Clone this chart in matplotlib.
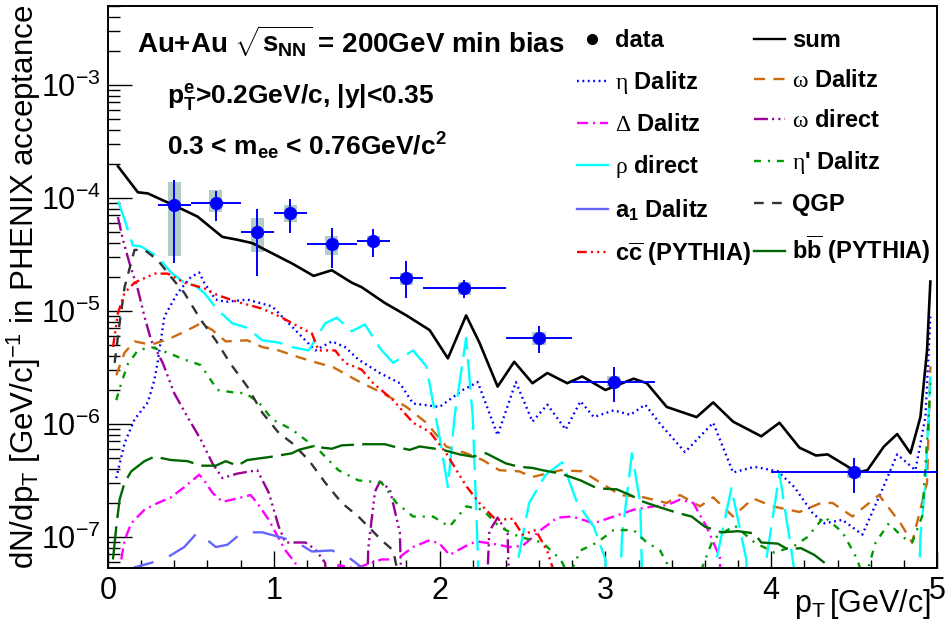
import numpy as np
import matplotlib
matplotlib.use("Agg")
import matplotlib.pyplot as plt
from matplotlib.lines import Line2D

plt.rcParams["font.family"] = ["Liberation Sans", "DejaVu Sans"]
plt.rcParams["mathtext.fontset"] = "custom"
plt.rcParams["mathtext.rm"] = "Liberation Serif"
plt.rcParams["mathtext.bf"] = "Liberation Sans:bold"
plt.rcParams["mathtext.sf"] = "Liberation Sans"
plt.rcParams["mathtext.it"] = "Liberation Sans:italic"
plt.rcParams["lines.scale_dashes"] = False

# ---- data points (pT bins, yield, stat and sys ranges) ----
data_x = [0.40, 0.65, 0.90, 1.10, 1.35, 1.60, 1.80, 2.15, 2.60, 3.05, 4.50]
data_xlo = [0.30, 0.50, 0.80, 1.00, 1.20, 1.50, 1.70, 1.90, 2.40, 2.80, 4.00]
data_xhi = [0.50, 0.80, 1.00, 1.20, 1.50, 1.70, 1.90, 2.40, 2.80, 3.30, 5.00]
data_y = [8.67e-5, 9.04e-5, 5.0e-5, 7.36e-5, 3.92e-5, 4.16e-5, 1.96e-5, 1.60e-5, 5.77e-6, 2.36e-6, 3.76e-7]
stat_hi = [1.44e-4, 1.15e-4, 8.0e-5, 9.8e-5, 5.43e-5, 5.32e-5, 2.77e-5, 1.88e-5, 7.36e-6, 3.19e-6, 5.0e-7]
stat_lo = [2.66e-5, 6.25e-5, 2.04e-5, 4.9e-5, 2.40e-5, 3.01e-5, 1.30e-5, 1.30e-5, 4.25e-6, 1.57e-6, 2.45e-7]
sys_hi = [1.39e-4, 1.18e-4, 6.65e-5, 8.67e-5, 4.61e-5, 4.61e-5, 2.17e-5, 1.81e-5, 6.52e-6, 2.63e-6, 4.17e-7]
sys_lo = [3.07e-5, 7.5e-5, 3.33e-5, 6.14e-5, 3.13e-5, 3.76e-5, 1.70e-5, 1.39e-5, 5.0e-6, 2.14e-6, 3.31e-7]

# ---- model curves, log10 of dN/dpT (-9 = below the frame) ----
sum_x = [0.06, 0.18, 0.24, 0.39, 0.54, 0.69, 0.78, 0.87, 0.99, 1.11, 1.24, 1.35, 1.47, 1.53, 1.67, 1.80,
         1.94, 2.05, 2.16, 2.24, 2.35, 2.45, 2.56, 2.65, 2.77, 2.86, 3.00, 3.17, 3.25, 3.37, 3.55, 3.65,
         3.77, 3.94, 4.05, 4.17, 4.27, 4.34, 4.52, 4.58, 4.68, 4.76, 4.84, 4.90, 4.94, 4.96]
sum_log = [-3.72, -3.95, -3.96, -4.06, -4.165, -4.345, -4.37, -4.40, -4.49, -4.58, -4.69, -4.64, -4.75,
           -4.79, -4.93, -5.04, -5.17, -5.42, -5.04, -5.28, -5.67, -5.45, -5.64, -5.55, -5.64, -5.58,
           -5.70, -5.60, -5.64, -5.85, -5.94, -5.81, -5.98, -6.11, -5.99, -6.21, -6.28, -6.27, -6.43,
           -6.41, -6.20, -6.09, -6.26, -5.94, -5.35, -4.74]

eta_x = [0.05, 0.10, 0.16, 0.24, 0.28, 0.30, 0.34, 0.42, 0.50, 0.55, 0.58, 0.65, 0.71, 0.84, 0.99, 1.11,
         1.19, 1.25, 1.35, 1.43, 1.51, 1.64, 1.76, 1.84, 2.00, 2.14, 2.23, 2.35, 2.46, 2.56, 2.65, 2.76,
         2.85, 2.93, 3.05, 3.15, 3.24, 3.33, 3.48, 3.65, 3.77, 3.90, 4.04, 4.14, 4.25, 4.32, 4.43, 4.55,
         4.67, 4.76, 4.87, 4.93, 4.96]
eta_log = [-6.48, -6.17, -5.96, -5.81, -5.61, -5.45, -5.05, -4.84, -4.70, -4.66, -4.75, -4.90, -4.92,
           -4.90, -4.96, -5.14, -5.26, -5.35, -5.27, -5.32, -5.43, -5.55, -5.64, -5.82, -5.85, -5.70,
           -5.63, -6.10, -5.63, -5.98, -5.83, -6.05, -5.80, -5.94, -5.88, -5.92, -5.83, -6.00, -6.25,
           -5.99, -6.43, -6.38, -6.42, -6.56, -6.79, -6.88, -6.85, -6.98, -6.58, -6.27, -6.41, -5.94, -5.05]

omega_dal_x = [0.05, 0.07, 0.10, 0.16, 0.26, 0.38, 0.48, 0.56, 0.63, 0.71, 0.84, 0.93, 1.03, 1.15, 1.24,
               1.36, 1.52, 1.66, 1.80, 1.92, 2.04, 2.16, 2.26, 2.36, 2.48, 2.56, 2.73, 2.86, 2.97, 3.09,
               3.23, 3.37, 3.45, 3.57, 3.65, 3.77, 3.89, 4.01, 4.17, 4.30, 4.37, 4.49, 4.65, 4.78, 4.85,
               4.94, 4.96]
omega_dal_log = [-5.57, -5.49, -5.37, -5.27, -5.30, -5.24, -5.17, -5.11, -5.17, -5.27, -5.26, -5.32, -5.35,
                 -5.41, -5.45, -5.50, -5.63, -5.73, -5.85, -5.99, -6.20, -6.26, -6.32, -6.41, -6.42,
                 -6.47, -6.41, -6.42, -6.52, -6.63, -6.65, -6.70, -6.63, -6.73, -6.65, -6.82, -6.66,
                 -6.73, -6.78, -6.70, -6.70, -6.82, -6.63, -6.88, -7.05, -6.52, -5.49]

delta_x = [0.08, 0.10, 0.14, 0.22, 0.30, 0.38, 0.46, 0.55, 0.58, 0.63, 0.69, 0.78, 0.86, 0.90, 0.97, 1.01,
           1.07, 1.13, 1.18, 1.30, 1.39, 1.49, 1.59, 1.65, 1.74, 1.84, 1.94, 2.00, 2.06, 2.16, 2.22, 2.32,
           2.42, 2.50, 2.61, 2.71, 2.80, 2.93, 3.05, 3.17, 3.29, 3.37, 3.45, 3.53, 3.61, 3.69, 3.73]
delta_log = [-7.20, -7.03, -6.88, -6.76, -6.70, -6.65, -6.56, -6.45, -6.50, -6.61, -6.69, -6.66, -6.63,
             -6.70, -6.85, -6.96, -7.12, -7.23, -9.0, -9.0, -7.25, -7.28, -7.23, -7.20, -7.20, -7.09,
             -7.03, -7.06, -7.16, -7.08, -7.04, -7.06, -7.09, -7.08, -6.94, -6.83, -6.82, -6.88, -6.82,
             -6.76, -6.73, -6.72, -6.67, -6.70, -6.91, -7.18, -9.0]

omega_dir_x = [0.06, 0.09, 0.13, 0.18, 0.22, 0.26, 0.33, 0.40, 0.48, 0.56, 0.63, 0.69, 0.78, 0.90, 0.97,
               1.03, 1.07, 1.19, 1.25, 1.31, 1.36, 1.53, 1.57, 1.61, 1.64, 1.70, 1.76, 1.80, 2.24, 2.30,
               2.35, 2.41, 2.45]
omega_dir_log = [-4.17, -4.37, -4.58, -4.81, -5.05, -5.26, -5.46, -5.73, -5.94, -6.14, -6.35, -6.48, -6.44,
                 -6.41, -6.61, -6.91, -7.05, -7.05, -7.11, -7.23, -9.0, -9.0, -7.10, -6.60, -6.51, -6.58,
                 -6.96, -9.0, -9.0, -6.95, -6.83, -6.97, -9.0]

rho_x = [0.06, 0.10, 0.15, 0.20, 0.30, 0.38, 0.46, 0.52, 0.58, 0.66, 0.75, 0.84, 0.93, 1.03, 1.11, 1.21,
         1.31, 1.38, 1.47, 1.55, 1.64, 1.72, 1.84, 1.92, 2.00, 2.05, 2.09, 2.16, 2.20, 2.23, 2.26, 2.43,
         2.46, 2.54, 2.64, 2.74, 2.83, 2.93, 3.00, 3.05, 3.10, 3.16, 3.21, 3.25, 3.63, 3.67, 3.76, 3.85,
         3.90, 3.96, 4.05, 4.14, 4.18, 4.86, 4.90, 4.93, 4.96]
rho_log = [-4.03, -4.19, -4.42, -4.43, -4.52, -4.66, -4.75, -4.77, -4.84, -4.99, -5.11, -5.15, -5.26,
           -5.28, -5.32, -5.35, -5.11, -5.06, -5.18, -5.12, -5.33, -5.46, -5.35, -5.49, -6.12, -6.56,
           -5.94, -5.24, -5.94, -7.12, -9.0, -9.0, -7.30, -6.70, -6.45, -6.34, -6.70, -6.91, -7.20,
           -9.0, -7.00, -6.26, -6.70, -9.0, -9.0, -7.20, -6.57, -7.20, -9.0, -7.30, -6.44, -7.30, -9.0,
           -9.0, -7.00, -6.52, -5.58]

etap_x = [0.05, 0.08, 0.12, 0.18, 0.26, 0.36, 0.46, 0.56, 0.66, 0.75, 0.83, 0.91, 0.99, 1.11, 1.19, 1.27,
          1.39, 1.51, 1.65, 1.74, 1.84, 1.96, 2.06, 2.16, 2.26, 2.36, 2.48, 2.62, 2.73, 2.78, 2.85, 2.95,
          3.05, 3.17, 3.25, 3.33, 3.43, 3.55, 3.65, 3.78, 3.90, 4.02, 4.14, 4.22, 4.32, 4.43, 4.52, 4.56,
          4.63, 4.71, 4.79, 4.85, 4.91, 4.95, 4.96]
etap_log = [-5.79, -5.64, -5.47, -5.35, -5.32, -5.37, -5.43, -5.48, -5.70, -5.72, -5.73, -5.81, -5.96,
            -6.05, -6.14, -6.23, -6.41, -6.50, -6.52, -6.70, -6.82, -6.82, -6.91, -6.73, -6.76, -6.91,
            -7.00, -7.05, -7.20, -7.35, -7.12, -7.05, -6.94, -6.94, -7.05, -7.12, -7.40, -7.40, -7.02,
            -6.90, -7.05, -7.14, -7.08, -7.00, -6.82, -6.96, -7.20, -7.40, -7.05, -6.88, -7.00, -7.05,
            -6.82, -5.94, -5.64]

a1_x = [0.14, 0.16, 0.26, 0.36, 0.46, 0.54, 0.60, 0.65, 0.72, 0.81, 0.93, 1.03, 1.13, 1.23, 1.35, 1.45,
        1.53, 1.57]
a1_log = [-7.40, -7.27, -7.23, -7.18, -7.09, -6.96, -7.03, -7.09, -7.07, -6.96, -6.96, -7.00, -7.04,
          -7.13, -7.12, -7.18, -7.27, -7.40]

qgp_x = [0.04, 0.07, 0.10, 0.16, 0.22, 0.30, 0.38, 0.46, 0.56, 0.65, 0.74, 0.84, 0.93, 1.03, 1.11, 1.21,
         1.31, 1.41, 1.51, 1.59, 1.65, 1.72, 1.76]
qgp_log = [-5.46, -5.11, -4.79, -4.46, -4.46, -4.55, -4.70, -4.84, -5.08, -5.26, -5.47, -5.67, -5.90,
           -6.08, -6.17, -6.32, -6.52, -6.70, -6.82, -6.94, -7.03, -7.12, -7.40]

ccbar_x = [0.03, 0.06, 0.10, 0.16, 0.28, 0.36, 0.46, 0.58, 0.66, 0.78, 0.93, 1.05, 1.15, 1.23, 1.27, 1.37,
           1.43, 1.53, 1.60, 1.72, 1.84, 1.94, 2.04, 2.16, 2.24, 2.34, 2.44, 2.50, 2.58, 2.65, 2.71, 2.75]
ccbar_log = [-5.32, -5.02, -4.84, -4.75, -4.67, -4.67, -4.75, -4.80, -4.86, -4.92, -4.98, -5.06, -5.14,
             -5.20, -5.35, -5.35, -5.46, -5.52, -5.64, -5.79, -5.99, -6.07, -6.26, -6.55, -6.70, -6.85,
             -6.84, -6.98, -6.94, -7.13, -7.40, -9.0]

bbbar_x = [0.03, 0.05, 0.07, 0.10, 0.14, 0.22, 0.28, 0.38, 0.48, 0.56, 0.65, 0.71, 0.78, 0.84, 0.99, 1.11,
           1.15, 1.23, 1.35, 1.41, 1.55, 1.67, 1.72, 1.82, 1.88, 2.02, 2.12, 2.20, 2.28, 2.40, 2.48, 2.56,
           2.62, 2.73, 2.85, 2.95, 3.07, 3.15, 3.23, 3.31, 3.44, 3.52, 3.60, 3.70, 3.80, 3.90, 3.94, 4.04,
           4.10, 4.18, 4.26, 4.34, 4.40]
bbbar_log = [-7.20, -6.91, -6.67, -6.52, -6.42, -6.33, -6.29, -6.32, -6.33, -6.37, -6.37, -6.33, -6.37,
             -6.32, -6.29, -6.26, -6.23, -6.20, -6.22, -6.19, -6.18, -6.18, -6.20, -6.23, -6.20, -6.23,
             -6.27, -6.29, -6.26, -6.35, -6.38, -6.39, -6.41, -6.44, -6.50, -6.57, -6.58, -6.63, -6.69,
             -6.73, -6.79, -6.82, -6.91, -6.96, -6.95, -6.97, -7.05, -7.06, -7.11, -7.10, -7.16, -7.25,
             -7.40]

fig = plt.figure(figsize=(9.49, 6.37), dpi=100)
ax = fig.add_axes([108 / 949, 1 - 568 / 637, 829 / 949, 562 / 637])

lw = 1.7
curves = [
    (eta_x, eta_log, "#0000ff", (0, (1.3, 2.6))),
    (omega_dal_x, omega_dal_log, "#cc6a10", (0, (8, 6))),
    (delta_x, delta_log, "#ff00ff", (0, (8, 3.5, 1.5, 3.5))),
    (omega_dir_x, omega_dir_log, "#990099", (0, (10, 3, 1.5, 3, 1.5, 3, 1.5, 3))),
    (rho_x, rho_log, "#00ffff", (0, (22, 7))),
    (etap_x, etap_log, "#009900", (0, (5, 5, 1.5, 5))),
    (a1_x, a1_log, "#6666ff", (0, (25, 12))),
    (qgp_x, qgp_log, "#333333", (0, (7, 6))),
    (ccbar_x, ccbar_log, "#ff0000", (0, (7, 3, 1.5, 3, 1.5, 3, 1.5, 3))),
    (bbbar_x, bbbar_log, "#006600", (0, (24, 6))),
]

# systematic boxes under everything else
ax.bar(data_x, np.array(sys_hi) - np.array(sys_lo), bottom=sys_lo, width=0.08,
       color="#b4cdc8", zorder=1)

for xs, logs, col, ls in curves:
    ax.plot(xs, 10.0 ** np.array(logs), color=col, lw=lw, ls=ls, zorder=2)
ax.plot(sum_x, 10.0 ** np.array(sum_log), color="black", lw=1.9, zorder=3)

dx = np.array(data_x)
dy = np.array(data_y)
ax.errorbar(dx, dy, xerr=[dx - np.array(data_xlo), np.array(data_xhi) - dx],
            yerr=[dy - np.array(stat_lo), np.array(stat_hi) - dy],
            fmt="o", color="#0000ff", ms=8.5, elinewidth=1.4, capsize=0, zorder=4)

ax.set_yscale("log")
ax.set_xlim(0, 5)
ax.set_ylim(5.3e-8, 5.0e-3)

ax.xaxis.set_major_locator(matplotlib.ticker.MultipleLocator(1))
ax.xaxis.set_minor_locator(matplotlib.ticker.MultipleLocator(0.2))
ax.yaxis.set_minor_locator(matplotlib.ticker.LogLocator(base=10, subs=np.arange(2, 10)))
ax.yaxis.set_minor_formatter(matplotlib.ticker.NullFormatter())
ax.tick_params(axis="both", which="both", direction="in", top=False, right=False,
               width=1.0, labelsize=22)
ax.tick_params(axis="x", which="major", length=12, pad=6)
ax.tick_params(axis="x", which="minor", length=6)
ax.tick_params(axis="y", which="major", length=17, pad=5)
ax.tick_params(axis="y", which="minor", length=8.5)
for sp in ax.spines.values():
    sp.set_linewidth(1.4)

fig.text(24 / 949, 1 - 5 / 637, r"dN/dp$_{\mathdefault{T}}$ [GeV/c]$^{\mathdefault{-1}}$ in PHENIX acceptance",
         rotation=90, ha="center", va="top", fontsize=22.5)
fig.text(931 / 949, 1 - 604 / 637, r"p$_{\mathdefault{T}}\,$[GeV/c]", ha="right", va="center", fontsize=22)

fig.text(137 / 949, 1 - 41 / 637, r"Au+Au $\sqrt{\mathdefault{s}_{\mathdefault{NN}}}$ = 200GeV min bias",
         ha="left", va="center", fontsize=20, weight="bold")
fig.text(167 / 949, 1 - 98 / 637, r"$\mathdefault{p}_{\mathdefault{T}}^{\mathdefault{e}}$>0.2GeV/c, |y|<0.35",
         ha="left", va="center", fontsize=19, weight="bold")
fig.text(167 / 949, 1 - 146 / 637, r"0.3 < $\mathdefault{m}_{\mathdefault{ee}}$ < 0.76GeV/c$^{\mathdefault{2}}$",
         ha="left", va="center", fontsize=19, weight="bold")

# legend, filled column by column like the original
def h(col, ls):
    return Line2D([], [], color=col, lw=lw, ls=ls)

handles = [
    Line2D([], [], marker="o", color="black", ls="none", ms=7),
    h(*curves[0][2:]), h(*curves[2][2:]), h("#00ffff", "-"), h("#6666ff", "-"), h(*curves[8][2:]),
    h("black", "-"), h(*curves[1][2:]), h(*curves[3][2:]), h(*curves[5][2:]), h(*curves[7][2:]),
    h("#006600", "-"),
]
labels = [
    "data", r"$\mathrm{\eta}$ Dalitz", r"$\mathrm{\Delta}$ Dalitz", r"$\mathrm{\rho}$ direct",
    r"$\mathdefault{a}_{\mathdefault{1}}$ Dalitz", r"c$\overline{\mathdefault{c}}$ (PYTHIA)",
    "sum", r"$\mathrm{\omega}$ Dalitz", r"$\mathrm{\omega}$ direct", r"$\mathrm{\eta}$' Dalitz", "QGP",
    r"b$\overline{\mathdefault{b}}$ (PYTHIA)",
]
fig.legend(handles, labels, ncol=2, loc="upper left", bbox_to_anchor=(577 / 949, 1 - 29 / 637),
           frameon=False, borderpad=0, borderaxespad=0, handlelength=1.3, handletextpad=0.3,
           columnspacing=0.15, labelspacing=0.72, prop={"size": 17, "weight": "bold"})

fig.savefig("out.png", dpi=100)
